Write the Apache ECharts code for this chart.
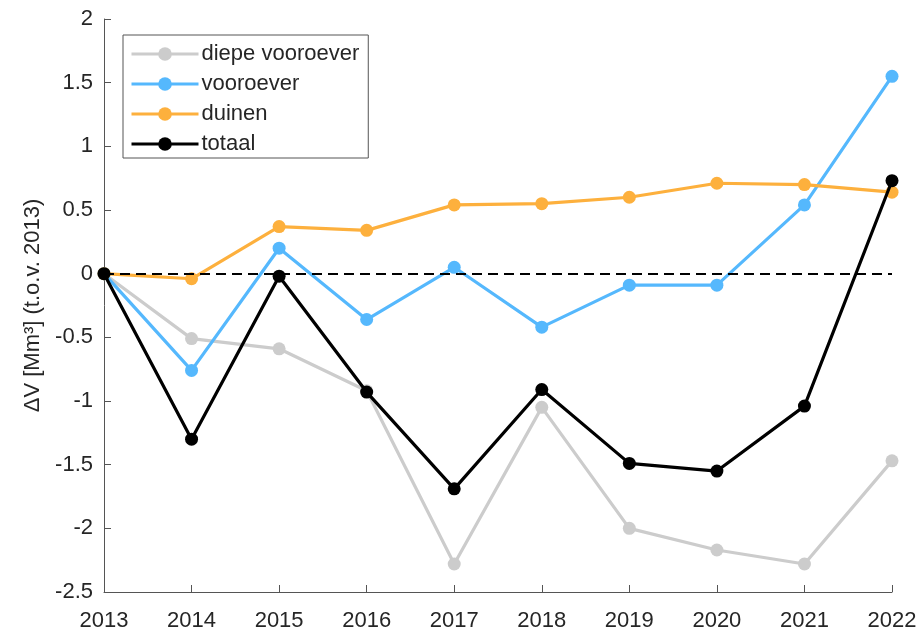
<!DOCTYPE html>
<html>
<head>
<meta charset="utf-8">
<script src="https://cdn.jsdelivr.net/npm/echarts@6/dist/echarts.min.js"></script>
<style>
html,body{margin:0;padding:0;background:#fff;}
#chart{width:920px;height:632px;}
</style>
</head>
<body>
<div id="chart"></div>
<script>
const years = ['2013','2014','2015','2016','2017','2018','2019','2020','2021','2022'];
const diepeVooroever = [0, -0.51, -0.59, -0.92, -2.28, -1.05, -2.0, -2.17, -2.28, -1.47];
const vooroever = [0, -0.76, 0.2, -0.36, 0.05, -0.42, -0.09, -0.09, 0.54, 1.55];
const duinen = [0, -0.04, 0.37, 0.34, 0.54, 0.55, 0.6, 0.71, 0.7, 0.64];
const totaal = [0, -1.3, -0.02, -0.93, -1.69, -0.91, -1.49, -1.55, -1.04, 0.73];
const yTicks = {min: -2.5, max: 2, interval: 0.5};

const FONT = 'Liberation Sans, Arial, sans-serif';
const TXT = '#262626';
function mk(name, data, color, z) {
  return {
    name: name, type: 'line', data: data, z: z,
    symbol: 'circle', symbolSize: 13,
    lineStyle: {width: 3.2, color: color},
    itemStyle: {color: color},
    animation: false
  };
}
const series = [
  mk('diepe vooroever', diepeVooroever, '#cccccc', 2),
  mk('vooroever', vooroever, '#55b8fd', 3),
  mk('duinen', duinen, '#fdb03d', 4),
  mk('totaal', totaal, '#000000', 5)
];
series[3].markLine = {
  silent: true, symbol: 'none', label: {show: false},
  lineStyle: {type: [10, 6], color: '#000', width: 2},
  data: [{yAxis: 0}],
  animation: false
};

const chart = echarts.init(document.getElementById('chart'), null, {renderer: 'canvas'});
chart.setOption({
  animation: false,
  backgroundColor: '#fff',
  textStyle: {fontFamily: FONT},
  grid: {left: 104, right: 28, top: 19, bottom: 40, containLabel: false},
  legend: {
    orient: 'vertical', left: 123, top: 35,
    itemWidth: 67, itemHeight: 17, itemGap: 8,
    padding: [8, 9, 3, 7],
    borderColor: '#555', borderWidth: 1, backgroundColor: '#fff',
    lineStyle: {width: 3},
    textStyle: {fontSize: 22, color: TXT, fontFamily: FONT, padding: [0,0,0,-2]},
    data: ['diepe vooroever', 'vooroever', 'duinen', 'totaal']
  },
  xAxis: {
    type: 'category', data: years, boundaryGap: false,
    axisLine: {onZero: false, lineStyle: {color: '#555', width: 1}},
    axisTick: {inside: true, length: 7, lineStyle: {color: '#555'}},
    axisLabel: {fontSize: 22, color: TXT, margin: 18, fontFamily: FONT},
    splitLine: {show: false}
  },
  yAxis: {
    type: 'value', min: yTicks.min, max: yTicks.max, interval: yTicks.interval,
    name: 'ΔV [Mm³] (t.o.v. 2013)', nameLocation: 'middle', nameGap: 58,
    nameTextStyle: {fontSize: 22, color: TXT, fontFamily: FONT},
    axisLine: {show: true, onZero: false, lineStyle: {color: '#555', width: 1}},
    axisTick: {show: true, inside: true, length: 7, lineStyle: {color: '#555'}},
    axisLabel: {fontSize: 22, color: TXT, margin: 11, fontFamily: FONT},
    splitLine: {show: false}
  },
  series: series
});
</script>
</body>
</html>
